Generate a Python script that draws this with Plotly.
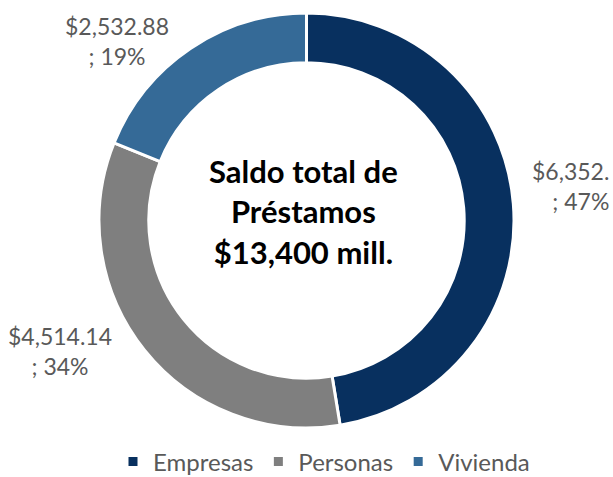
import plotly.graph_objects as go

categories = ["Empresas", "Personas", "Vivienda"]
values = [6352.98, 4514.14, 2532.88]
shown_values = ["$6,352.", "$4,514.14", "$2,532.88"]  # as displayed in the picture
colors = ["#08305F", "#7F7F7F", "#356A97"]
total_label = "$13,400 mill."

total = sum(values)
pcts = [round(v / total * 100) for v in values]

W, H = 613, 477

def fx(px):
    return px / W

def fy(py):
    return 1 - py / H

FONT = "Lato, DejaVu Sans, sans-serif"

fig = go.Figure()
fig.add_trace(go.Pie(
    labels=categories,
    values=values,
    hole=0.76,
    sort=False,
    direction="clockwise",
    rotation=0,
    marker=dict(colors=colors, line=dict(color="white", width=3)),
    textinfo="none",
    hoverinfo="label+value+percent",
    domain=dict(x=[fx(98), fx(515)], y=[fy(428), fy(13)]),
))

# data labels
label_cfg = [  # (x, y, xanchor, align)
    (611, 186, "right", "right"),
    (60, 351, "center", "center"),
    (117, 41, "center", "center"),
]
for (cx, cy, xa, al), t, p in zip(label_cfg, shown_values, pcts):
    fig.add_annotation(
        x=fx(cx), y=fy(cy), xref="paper", yref="paper",
        text=f"{t}<br>; {p}%", showarrow=False,
        font=dict(family=FONT, size=23, color="#595959"),
        align=al, xanchor=xa, yanchor="middle",
    )

fig.add_annotation(
    x=fx(303), y=fy(211), xref="paper", yref="paper",
    text=f"<b>Saldo total de<br>Préstamos<br>{total_label}</b>", showarrow=False,
    font=dict(family=FONT, size=31, color="#000000"),
    align="center", xanchor="center", yanchor="middle",
)

fig.update_layout(
    width=W, height=H,
    margin=dict(l=0, r=0, t=0, b=0, autoexpand=False),
    paper_bgcolor="white", plot_bgcolor="white",
    showlegend=True,
    legend=dict(orientation="h", x=fx(324), xanchor="center", y=fy(462), yanchor="middle",
                font=dict(family=FONT, size=24, color="#595959"),
                itemwidth=30, traceorder="normal"),
)

fig.write_html(
    "out.html",
    config={"displayModeBar": False},
    post_script="document.body.style.margin='0';document.body.style.overflow='hidden';",
)
